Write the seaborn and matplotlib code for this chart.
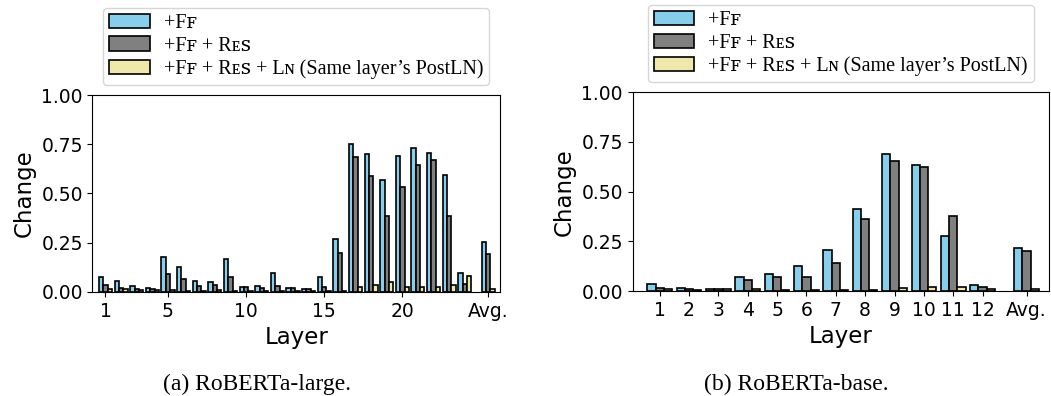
import numpy as np
import pandas as pd
import seaborn as sns
from matplotlib import pyplot as plt

# series names (small caps written with unicode small capitals)
settings = ["+F\ua730",
            "+F\ua730 + R\u1d07\ua731",
            "+F\ua730 + R\u1d07\ua731 + L\u0274 (Same layer\u2019s PostLN)"]
colors = ["#87CEEB", "#808080", "#EEE8AA"]

# RoBERTa-large, 24 layers + average
large_labels = [str(i) for i in range(1, 25)] + ["Avg."]
large_ff = [0.074, 0.057, 0.030, 0.020, 0.179, 0.124, 0.054, 0.050, 0.168, 0.027, 0.032, 0.095,
            0.018, 0.017, 0.075, 0.271, 0.749, 0.702, 0.570, 0.690, 0.729, 0.704, 0.593, 0.095, 0.255]
large_ff_res = [0.035, 0.020, 0.013, 0.015, 0.090, 0.067, 0.032, 0.034, 0.075, 0.027, 0.020, 0.030,
                0.018, 0.015, 0.027, 0.196, 0.687, 0.590, 0.385, 0.534, 0.645, 0.668, 0.387, 0.042, 0.193]
large_ff_res_ln = [0.017, 0.012, 0.007, 0.007, 0.007, 0.005, 0.005, 0.007, 0.005, 0.005, 0.005, 0.004,
                   0.005, 0.006, 0.003, 0.003, 0.025, 0.035, 0.050, 0.025, 0.025, 0.023, 0.037, 0.080, 0.017]
large_ticks = ["1", "5", "10", "15", "20", "Avg."]

# RoBERTa-base, 12 layers + average
base_labels = [str(i) for i in range(1, 13)] + ["Avg."]
base_ff = [0.035, 0.015, 0.010, 0.072, 0.087, 0.127, 0.207, 0.412, 0.690, 0.633, 0.275, 0.030, 0.217]
base_ff_res = [0.015, 0.008, 0.010, 0.055, 0.070, 0.073, 0.143, 0.365, 0.652, 0.623, 0.378, 0.020, 0.200]
base_ff_res_ln = [0.010, 0.007, 0.008, 0.008, 0.005, 0.003, 0.003, 0.003, 0.015, 0.022, 0.022, 0.012, 0.010]
base_ticks = base_labels


def make_df(labels, series):
    n = len(labels)
    # layers at 1..n-1, the average put 1.5 slots after the last layer
    pos = list(np.arange(1, n)) + [n + 0.5]
    rows = []
    for name, vals in zip(settings, series):
        for p, lab, v in zip(pos, labels, vals):
            rows.append({"pos": p, "layer": lab, "setting": name, "value": v})
    return pd.DataFrame(rows), dict(zip(labels, pos))


def draw(ax, labels, series, ticks, xlim):
    df, posmap = make_df(labels, series)
    sns.barplot(data=df, x="pos", y="value", hue="setting", hue_order=settings,
                palette=colors, native_scale=True, width=0.84, saturation=1,
                edgecolor="black", linewidth=1.2, errorbar=None, ax=ax)
    ax.set_xticks([posmap[t] for t in ticks])
    ax.set_xticklabels(ticks)
    ax.set_xlim(*xlim)
    ax.set_ylim(0, 1)
    ax.set_yticks([0, 0.25, 0.5, 0.75, 1.0])
    ax.set_yticklabels(["0.00", "0.25", "0.50", "0.75", "1.00"])
    ax.tick_params(labelsize=13.5)
    ax.set_xlabel("Layer", fontsize=16.5)
    ax.set_ylabel("Change", fontsize=16.5)
    sns.move_legend(ax, "lower center", bbox_to_anchor=(0.5, 1.0), title=None,
                    prop={"family": ["Liberation Serif", "DejaVu Serif"], "size": 14.5},
                    labelspacing=0.18, handlelength=2.0, borderpad=0.3,
                    handletextpad=0.7)


fig = plt.figure(figsize=(10.51, 3.96), dpi=100)
ax1 = fig.add_axes([0.088, 0.263, 0.388, 0.497])
ax2 = fig.add_axes([0.602, 0.265, 0.396, 0.502])

draw(ax1, large_labels, [large_ff, large_ff_res, large_ff_res_ln], large_ticks, (0.17, 26.27))
draw(ax2, base_labels, [base_ff, base_ff_res, base_ff_res_ln], base_ticks, (0.08, 14.26))

fig.text(0.245, 0.03, "(a) RoBERTa-large.", ha="center", va="center",
         family="Liberation Serif", fontsize=17)
fig.text(0.758, 0.03, "(b) RoBERTa-base.", ha="center", va="center",
         family="Liberation Serif", fontsize=17)

fig.savefig("out.png", dpi=100)
